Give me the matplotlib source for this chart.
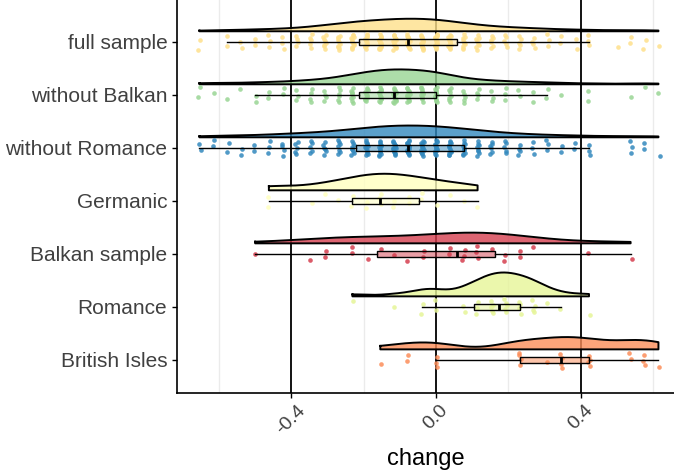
import numpy as np
import matplotlib
matplotlib.use("Agg")
import matplotlib.pyplot as plt

plt.rcParams['font.family'] = ['Liberation Sans', 'DejaVu Sans']

# ---- data -------------------------------------------------------------
# grid of observed change values (steps of 1/26)
grid = [-0.654, -0.615, -0.577, -0.538, -0.500, -0.462, -0.423, -0.385,
        -0.346, -0.308, -0.269, -0.231, -0.192, -0.154, -0.115, -0.077,
        -0.038, 0.000, 0.038, 0.077, 0.115, 0.154, 0.192, 0.231, 0.269,
        0.308, 0.346, 0.385, 0.423, 0.462, 0.500, 0.538, 0.577, 0.615]

# counts of observations per grid value, one list per group
counts_full = [2, 0, 2, 2, 2, 3, 3, 4, 5, 8, 10, 13,
               13, 15, 16, 17, 16, 17, 13,
               10, 8, 6, 5, 5, 4, 3, 2, 2, 3, 0, 1, 2, 2, 1]
counts_wo_balkan = [2, 1, 1, 1, 2, 2, 2, 3, 4, 4, 6, 9,
                    11, 13, 14, 13, 12, 13, 7,
                    5, 4, 3, 3, 2, 2, 2, 1, 0, 2, 0, 0, 1, 1, 1]
counts_wo_romance = [2, 2, 2, 2, 2, 3, 4, 5, 5, 6, 7, 9,
                     12, 13, 14, 15, 13, 14, 12,
                     10, 8, 6, 5, 4, 3, 3, 2, 2, 3, 0, 0, 3, 2, 1]
counts_germanic = [0, 0, 0, 0, 0, 2, 0, 0, 1, 1, 1, 2,
                   2, 3, 2, 2, 2, 1, 1,
                   1, 1, 0, 0, 0, 0, 0, 0, 0, 0, 0, 0, 0, 0, 0]
counts_balkan = [0, 0, 0, 0, 1, 0, 0, 0, 1, 2, 0, 2,
                 1, 1, 1, 1, 2, 0, 2,
                 3, 3, 1, 2, 2, 1, 0, 0, 0, 1, 0, 0, 1, 0, 0]
counts_romance = [0, 0, 0, 0, 0, 0, 0, 0, 0, 0, 0, 1,
                  0, 0, 1, 0, 2, 2, 0,
                  2, 3, 5, 5, 4, 4, 1, 1, 0, 1, 0, 0, 0, 0, 0]
counts_british = [0, 0, 0, 0, 0, 0, 0, 0, 0, 0, 0, 0,
                  0, 1, 0, 2, 0, 3, 0,
                  0, 0, 0, 0, 4, 0, 1, 4, 0, 4, 0, 0, 2, 3, 1]

categories = ["full sample", "without Balkan", "without Romance", "Germanic",
              "Balkan sample", "Romance", "British Isles"]
group_counts = [counts_full, counts_wo_balkan, counts_wo_romance,
                counts_germanic, counts_balkan, counts_romance, counts_british]
colors = ["#FEE08B", "#99D594", "#3288BD", "#FFFFBF",
          "#D53E4F", "#E6F598", "#FC8D59"]

x_ticks = [-0.4, 0.0, 0.4]
x_tick_labels = ["-0.4", "0.0", "0.4"]
minor_ticks = [-0.6, -0.2, 0.2, 0.6]

# ---- helpers ----------------------------------------------------------
def expand(counts):
    vals = []
    for v, c in zip(grid, counts):
        vals.extend([v] * c)
    return np.array(vals)


def nrd0(x):
    sd = np.std(x, ddof=1)
    iqr = np.subtract(*np.percentile(x, [75, 25]))
    lo = min(sd, iqr / 1.34) if iqr > 0 else sd
    return 0.9 * lo * len(x) ** (-0.2)


def kde(x, grid_pts):
    bw = nrd0(x)
    d = (grid_pts[:, None] - x[None, :]) / bw
    return np.exp(-0.5 * d ** 2).sum(axis=1) / (len(x) * bw * np.sqrt(2 * np.pi))


data = [expand(c) for c in group_counts]
ypos = list(range(len(categories), 0, -1))   # full sample at top

dens = []
for x in data:
    xs = np.linspace(x.min(), x.max(), 512)
    dens.append((xs, kde(x, xs)))
dmax = max(d.max() for _, d in dens)

# ---- figure -----------------------------------------------------------
fig = plt.figure(figsize=(6.74, 4.72), dpi=100)
ax = fig.add_axes([177 / 674, 79 / 472, 497 / 674, 393 / 472])

for m in minor_ticks:
    ax.axvline(m, color="#EBEBEB", lw=1.0, zorder=0)
for t in x_ticks:
    ax.axvline(t, color="black", lw=1.3, zorder=0.5)

half_w = 0.45
nudge = 0.2
jit_y = 0.15
jit_x = 0.004
phi = 0.6180339887
phi2 = 0.7548776662

for i, (x, (xs, d), y, col) in enumerate(zip(data, dens, ypos, colors)):
    base = y + nudge
    top = base + half_w * d / dmax
    ax.fill_between(xs, base, top, color=col, alpha=0.8, lw=0, zorder=2)
    ax.plot(np.r_[xs, xs[::-1], xs[0]], np.r_[top, np.full_like(xs, base), top[0]],
            color="black", lw=1.4, zorder=2.1, solid_joinstyle="round")
    # jittered points (deterministic low-discrepancy offsets)
    idx = np.arange(len(x))
    oy = ((idx * phi + 0.37 * i) % 1.0 - 0.5) * 2 * jit_y
    ox = ((idx * phi2 + 0.11 * i) % 1.0 - 0.5) * 2 * jit_x
    ax.scatter(x + ox, y + oy, s=11, color=col, alpha=0.85, lw=0, zorder=3)

bp = ax.boxplot(data, positions=ypos, vert=False, widths=0.1, whis=1.5,
                showfliers=False, showcaps=False, patch_artist=True,
                manage_ticks=False, zorder=4,
                boxprops=dict(edgecolor="black", linewidth=1.0),
                whiskerprops=dict(color="black", linewidth=1.0),
                medianprops=dict(color="black", linewidth=2.0))
for patch, col in zip(bp["boxes"], colors):
    patch.set_facecolor(matplotlib.colors.to_rgba(col, 0.5))

ax.set_xlim(-0.716, 0.658)
ax.set_ylim(0.377, 7.79)

ax.set_yticks(ypos)
ax.set_yticklabels(categories, fontsize=15, color="#404040")
ax.set_xticks(x_ticks)
ax.set_xticklabels(x_tick_labels, fontsize=14, color="#404040",
                   rotation=45, ha="center", va="top")
ax.tick_params(axis="both", length=3.5, width=1.0, color="black")
ax.tick_params(axis="x", pad=3)
ax.set_xlabel("change", fontsize=17, labelpad=7)

for s in ["top", "right"]:
    ax.spines[s].set_visible(False)
for s in ["left", "bottom"]:
    ax.spines[s].set_linewidth(1.2)
    ax.spines[s].set_color("black")

fig.savefig("out.png", dpi=100)
